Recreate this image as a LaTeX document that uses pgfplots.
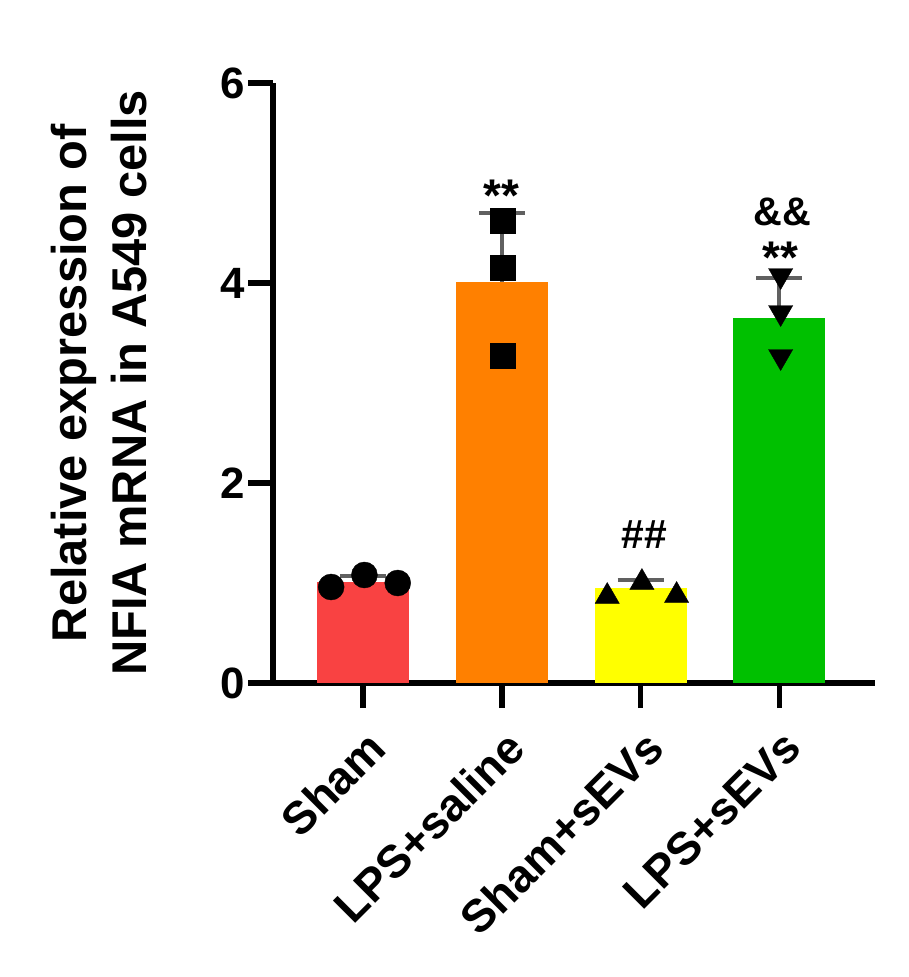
\documentclass[border=0pt]{standalone}
\usepackage{fontspec}
\setmainfont{Liberation Sans}
\usepackage{pgfplots}
\pgfplotsset{compat=1.18}
\definecolor{cred}{RGB}{249,66,66}
\definecolor{corange}{RGB}{255,128,0}
\definecolor{cyellow}{RGB}{255,255,0}
\definecolor{cgreen}{RGB}{0,192,0}
\definecolor{cgray}{RGB}{96,96,96}
\begin{document}
\begin{tikzpicture}
\begin{axis}[
  scale only axis, width=602bp, height=600bp,
  xmin=-0.649, xmax=3.69, ymin=0, ymax=6,
  axis x line*=bottom, axis y line*=left,
  axis line style={line width=5.5bp, black},
  xtick={0,1,2,3},
  xticklabels={Sham,LPS+saline,Sham+sEVs,LPS+sEVs},
  ytick={0,2,4,6},
  minor tick num=0,
  tick align=outside, major tick length=25bp,
  tick style={line width=5.5bp, black},
  /pgf/number format/assume math mode=true,
  xticklabel style={rotate=45, anchor=north east, xshift=-9bp, yshift=-12bp, font=\bfseries\fontsize{46}{55}\selectfont},
  yticklabel style={font=\bfseries\fontsize{44}{52}\selectfont},
  ylabel={Relative expression of\\NFIA mRNA in A549 cells},
  ylabel style={align=center, font=\bfseries\fontsize{49}{61}\selectfont, at={(axis description cs:-0.2027,0.5)}, anchor=south},
  clip=false,
]
\addplot[ybar, bar width=0.663, bar shift=0pt, fill=cred, draw=none] coordinates {(0,1.013)};
\addplot[ybar, bar width=0.663, bar shift=0pt, fill=corange, draw=none] coordinates {(1,4.013)};
\addplot[ybar, bar width=0.663, bar shift=0pt, fill=cyellow, draw=none] coordinates {(2,0.95)};
\addplot[ybar, bar width=0.663, bar shift=0pt, fill=cgreen, draw=none] coordinates {(3,3.647)};
\addplot[draw=none, mark=none, forget plot,
  error bars/.cd, y dir=plus, y explicit,
  error bar style={line width=4bp, draw=cgray},
  error mark options={rotate=90, line width=4bp, draw=cgray, mark size=23bp}]
  coordinates {(0,1.013) +- (0,0.061) (1,4.013) +- (0,0.685) (2,0.95) +- (0,0.078) (3,3.647) +- (0,0.405)};
\addplot[only marks, mark=*, mark size=13bp, black] coordinates {(-0.23,0.96) (0.01,1.08) (0.25,1.00)};
\addplot[only marks, mark=square*, mark size=12.5bp, black] coordinates {(1.01,4.62) (1.01,4.15) (1.01,3.27)};
\addplot[only marks, mark=triangle*, mark size=14bp, black, mark options={yshift=-3.5bp}] coordinates {(1.76,0.90) (2.01,1.04) (2.26,0.91)};
\addplot[only marks, mark=triangle*, mark size=14bp, black, mark options={yshift=3.5bp, rotate=180}] coordinates {(3.01,4.04) (3.01,3.67) (3.01,3.23)};
\node[font=\bfseries\fontsize{46}{54}\selectfont, anchor=base] at (axis cs:1.0,4.72) {**};
\node[font=\bfseries\fontsize{40}{48}\selectfont, anchor=base] at (axis cs:3.02,4.58) {\&\&};
\node[font=\bfseries\fontsize{46}{54}\selectfont, anchor=base] at (axis cs:3.006,4.10) {**};
\node[font=\bfseries\fontsize{41}{48}\selectfont, anchor=base] at (axis cs:2.026,1.35) {\#\#};
\end{axis}
\pgfresetboundingbox
\path (-273bp,-294bp) rectangle (636bp,683bp);
\end{tikzpicture}
\end{document}
